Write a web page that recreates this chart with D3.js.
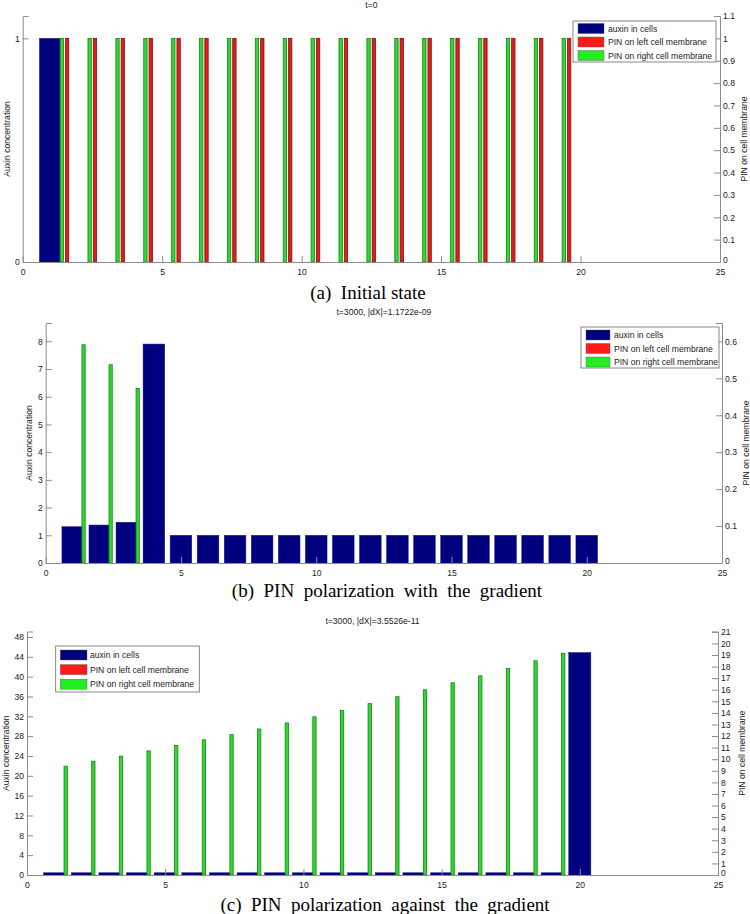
<!DOCTYPE html>
<html><head><meta charset="utf-8">
<script src="https://cdn.jsdelivr.net/npm/d3@7"></script>
<style>
body{margin:0;background:#fff;}
svg{display:block;}
text{font-family:"Liberation Sans",Arial,sans-serif;}
.cap{font-family:"Liberation Serif","Times New Roman",serif;}
</style></head>
<body><svg id="c" width="750" height="914"></svg>
<script>
// ---------- data ----------
const cells = [1,2,3,4,5,6,7,8,9,10,11,12,13,14,15,16,17,18,19,20];
const membranes = [1,2,3,4,5,6,7,8,9,10,11,12,13,14,15,16,17,18,19];
const xTicks = [0,5,10,15,20,25];
const seriesNames = ["auxin in cells","PIN on left cell membrane","PIN on right cell membrane"];

// (a) initial state
const titleA = "t=0";
const captionA = "(a)  Initial state";
const auxinA = [1,0,0,0,0,0,0,0,0,0,0,0,0,0,0,0,0,0,0,0];
const pinLeftA = [1,1,1,1,1,1,1,1,1,1,1,1,1,1,1,1,1,1,1];
const pinRightA = [1,1,1,1,1,1,1,1,1,1,1,1,1,1,1,1,1,1,1];
const leftTicksA = [0,1];
const rightTicksA = [0,0.1,0.2,0.3,0.4,0.5,0.6,0.7,0.8,0.9,1,1.1];

// (b) with the gradient
const titleB = "t=3000, |dX|=1.1722e-09";
const captionB = "(b)  PIN  polarization  with  the  gradient";
const auxinB = [1.31,1.37,1.47,7.9,1,1,1,1,1,1,1,1,1,1,1,1,1,1,1,1];
const pinLeftB = [0,0,0,0,0,0,0,0,0,0,0,0,0,0,0,0,0,0,0];
const pinRightB = [0.591,0.537,0.473,0,0,0,0,0,0,0,0,0,0,0,0,0,0,0,0];
const leftTicksB = [0,1,2,3,4,5,6,7,8];
const rightTicksB = [0,0.1,0.2,0.3,0.4,0.5,0.6];

// (c) against the gradient
const titleC = "t=3000, |dX|=3.5526e-11";
const captionC = "(c)  PIN  polarization  against  the  gradient";
const auxinC = [0.45,0.45,0.45,0.45,0.45,0.45,0.45,0.45,0.45,0.45,0.45,0.45,0.45,0.45,0.45,0.45,0.45,0.45,0.45,44.85];
const pinLeftC = [0,0,0,0,0,0,0,0,0,0,0,0,0,0,0,0,0,0,0];
const pinRightC = [9.40,9.83,10.26,10.72,11.18,11.67,12.12,12.61,13.13,13.66,14.22,14.8,15.4,16.0,16.6,17.2,17.85,18.5,19.15];
const leftTicksC = [0,4,8,12,16,20,24,28,32,36,40,44,48];
const rightTicksC = [0,1,2,3,4,5,6,7,8,9,10,11,12,13,14,15,16,17,18,19,20,21];

// ---------- drawing ----------
const svg = d3.select("#c");
const NAVY="#00007f", GREEN="#36d436", GREEN_E="#0a8a0a", RED="#e01e1e", RED_E="#8a0d0d";
const AXC="#8c8c8c", TXT="#222";
const FS = 8.6;

function panel(cfg){
  const g = svg.append("g");
  const x = d3.scaleLinear().domain([0,25]).range([cfg.x0,cfg.x1]);
  const yl = d3.scaleLinear().domain(cfg.leftDom).range([cfg.yBot,cfg.yTop]);
  const yr = d3.scaleLinear().domain(cfg.rightDom).range([cfg.yBot,cfg.yTop]);

  // auxin bars (left axis)
  g.append("g").selectAll("rect").data(cells.map((c,i)=>({c,v:cfg.auxin[i]})).filter(d=>d.v>0))
    .join("rect")
    .attr("x",d=>x(d.c-0.4)).attr("width",d=>x(d.c+0.4)-x(d.c-0.4))
    .attr("y",d=>yl(d.v)).attr("height",d=>yl(0)-yl(d.v))
    .attr("fill",NAVY).attr("stroke","#1a1a8a").attr("stroke-width",0.5);
  // PIN right membrane (green), left membrane (red) on right axis
  g.append("g").selectAll("rect").data(membranes.map((m,i)=>({m,v:cfg.pinRight[i]})).filter(d=>d.v>0))
    .join("rect")
    .attr("x",d=>x(d.m+0.34)).attr("width",d=>x(d.m+0.46)-x(d.m+0.34))
    .attr("y",d=>yr(d.v)).attr("height",d=>yr(0)-yr(d.v))
    .attr("fill",GREEN).attr("stroke",GREEN_E).attr("stroke-width",0.8);
  g.append("g").selectAll("rect").data(membranes.map((m,i)=>({m,v:cfg.pinLeft[i]})).filter(d=>d.v>0))
    .join("rect")
    .attr("x",d=>x(d.m+0.53)).attr("width",d=>x(d.m+0.65)-x(d.m+0.53))
    .attr("y",d=>yr(d.v)).attr("height",d=>yr(0)-yr(d.v))
    .attr("fill",RED).attr("stroke",RED_E).attr("stroke-width",0.8);

  // axes
  const ax = g.append("g").attr("font-size",FS);
  const bottom = ax.append("g").attr("transform",`translate(0,${cfg.yBot})`)
    .call(d3.axisBottom(x).tickValues(xTicks).tickSize(-6).tickPadding(6.5).tickFormat(d3.format("d")));
  const left = ax.append("g").attr("transform",`translate(${cfg.x0},0)`)
    .call(d3.axisLeft(yl).tickValues(cfg.leftTicks).tickSize(-6).tickPadding(3).tickFormat(d=>String(d)));
  const right = ax.append("g").attr("transform",`translate(${cfg.x1},0)`)
    .call(d3.axisRight(yr).tickValues(cfg.rightTicks).tickSize(-6).tickPadding(3).tickFormat(d=>String(+d.toFixed(2))));
  [bottom,left,right].forEach(a=>{
    a.select(".domain").attr("stroke",AXC).attr("stroke-width",1);
    a.selectAll(".tick line").attr("stroke",AXC);
    a.selectAll(".tick text").attr("fill",TXT).attr("font-family","Liberation Sans, Arial, sans-serif").attr("font-size",FS);
  });
  // the zero label on the right axis sits just above the axis corner
  right.selectAll(".tick").filter(d=>d===0).select("text").attr("dy","0.1em");
  // remove the overlapping tick marks at 0 and 25 on bottom axis
  bottom.selectAll(".tick").filter(d=>d===0||d===25).select("line").remove();

  // axis titles
  const ymid = (cfg.yTop+cfg.yBot)/2;
  g.append("text").attr("transform",`translate(${cfg.lx},${ymid}) rotate(-90)`)
    .attr("text-anchor","middle").attr("dominant-baseline","central")
    .attr("font-size",FS).attr("fill",TXT).text("Auxin concentration");
  g.append("text").attr("transform",`translate(${cfg.rx},${ymid}) rotate(-90)`)
    .attr("text-anchor","middle").attr("dominant-baseline","central")
    .attr("font-size",FS).attr("fill",TXT).text("PIN on cell membrane");
  // title
  g.append("text").attr("x",(cfg.x0+cfg.x1)/2).attr("y",cfg.yTop-11)
    .attr("text-anchor","middle").attr("dominant-baseline","central")
    .attr("font-size",FS).attr("fill",TXT).text(cfg.title);
  // caption
  g.append("text").attr("class","cap").attr("x",cfg.capX).attr("y",cfg.capY)
    .attr("text-anchor","middle").attr("dominant-baseline","central")
    .attr("font-size",19).attr("fill","#000").style("white-space","pre").attr("xml:space","preserve").text(cfg.caption);

  // legend
  const L = cfg.legend;
  const lg = g.append("g").attr("transform",`translate(${L.x},${L.y})`);
  lg.append("rect").attr("width",L.w).attr("height",L.h).attr("fill","#fff").attr("stroke","#6a6a6a").attr("stroke-width",0.8);
  const cols=[NAVY,"#ff1a1a","#22ee22"];
  seriesNames.forEach((n,i)=>{
    const cy = L.r0 + i*L.step;
    lg.append("rect").attr("x",L.sx).attr("y",cy-5).attr("width",L.sw).attr("height",10).attr("fill",cols[i])
      .attr("stroke","#555").attr("stroke-width",0.4);
    lg.append("text").attr("x",L.tx).attr("y",cy).attr("dominant-baseline","central")
      .attr("font-size",FS).attr("fill",TXT).text(n);
  });
}

panel({x0:22.7,x1:720,yTop:16,yBot:262,leftDom:[0,1.1],rightDom:[0,1.1],
  auxin:auxinA,pinLeft:pinLeftA,pinRight:pinRightA,leftTicks:leftTicksA,rightTicks:rightTicksA,
  lx:6.5,rx:744,title:titleA,caption:captionA,capX:368,capY:292,
  legend:{x:573,y:21,w:143,h:41,sx:5,sw:26,tx:35,r0:7.5,step:13.5}});
panel({x0:45.7,x1:722,yTop:323,yBot:563,leftDom:[0,8.66],rightDom:[0,0.65],
  auxin:auxinB,pinLeft:pinLeftB,pinRight:pinRightB,leftTicks:leftTicksB,rightTicks:rightTicksB,
  lx:29,rx:746,title:titleB,caption:captionB,capX:387,capY:590,
  legend:{x:581,y:327,w:138,h:41,sx:5,sw:24,tx:33,r0:8,step:13.5}});
panel({x0:27,x1:718,yTop:631.5,yBot:875,leftDom:[0,49.1],rightDom:[0,21.03],
  auxin:auxinC,pinLeft:pinLeftC,pinRight:pinRightC,leftTicks:leftTicksC,rightTicks:rightTicksC,
  lx:6,rx:742,title:titleC,caption:captionC,capX:385,capY:904,
  legend:{x:55.7,y:646,w:143.6,h:46,sx:4.6,sw:26.7,tx:34.3,r0:9,step:14.6}});
</script></body></html>
